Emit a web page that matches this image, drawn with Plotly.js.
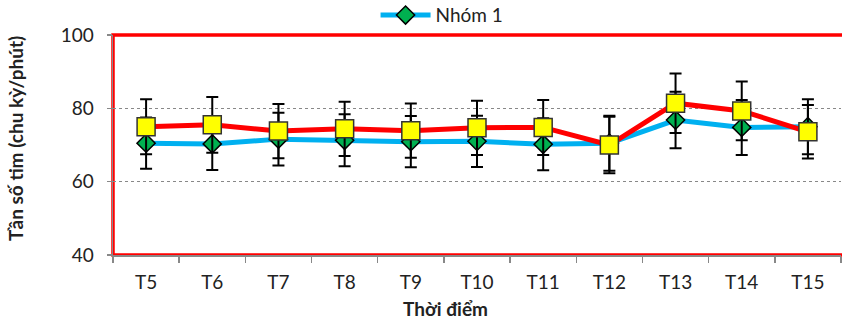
<!DOCTYPE html>
<html>
<head>
<meta charset="utf-8">
<script src="https://cdn.plot.ly/plotly-3.0.1.min.js"></script>
<style>html,body{margin:0;padding:0;background:#fff;}#chart{width:842px;height:322px;}</style>
</head>
<body>
<div id="chart"></div>
<script>
const categories = ["T5","T6","T7","T8","T9","T10","T11","T12","T13","T14","T15"];
const group1Name = "Nhóm 1";
const group1Values = [70.5, 70.3, 71.6, 71.3, 70.9, 71.0, 70.2, 70.5, 76.8, 74.8, 75.0];
const group1Errors = [7.0, 7.1, 7.2, 7.1, 7.0, 7.0, 7.1, 7.5, 7.7, 7.5, 7.5];
const group2Name = "Nhóm 2";
const group2Values = [75.0, 75.5, 73.8, 74.4, 73.9, 74.7, 74.8, 70.0, 81.4, 79.3, 73.6];
const group2Errors = [7.5, 7.6, 7.4, 7.4, 7.4, 7.4, 7.5, 7.7, 8.1, 8.0, 7.3];
const yTicks = [40, 60, 80, 100];
const yTitle = "Tần số tim (chu kỳ/phút)";
const xTitle = "Thời điểm";

const FONT = "Lato, 'Open Sans', sans-serif";

const traces = [
  {
    type: "scatter", mode: "lines+markers", name: group1Name,
    x: categories, y: group1Values,
    line: {color: "#00B0F0", width: 5},
    marker: {symbol: "diamond", size: 14, color: "#00B050", line: {color: "#000", width: 1.5}},
    error_y: {type: "data", array: group1Errors, visible: true, color: "#000", thickness: 2, width: 6},
    showlegend: true
  },
  {
    type: "scatter", mode: "lines+markers", name: group2Name,
    x: categories, y: group2Values,
    line: {color: "#FF0000", width: 5},
    marker: {symbol: "square", size: 18, color: "#FFFF00", line: {color: "#333", width: 1.5}},
    error_y: {type: "data", array: group2Errors, visible: true, color: "#000", thickness: 2, width: 6},
    showlegend: false
  }
];

const layout = {
  width: 842, height: 322,
  margin: {l: 113, r: 1, t: 35, b: 67, autoexpand: false},
  paper_bgcolor: "#fff", plot_bgcolor: "#fff",
  font: {family: FONT, size: 19, color: "#222"},
  showlegend: true,
  legend: {orientation: "h", x: 0.452, xanchor: "center", y: 1.09, yanchor: "middle",
           font: {family: FONT, size: 19, color: "#222"}, itemwidth: 50, bgcolor: "rgba(0,0,0,0)"},
  xaxis: {
    type: "category", range: [-0.5, 10.5],
    showline: true, linecolor: "#888", linewidth: 1.5,
    ticks: "outside", tickson: "boundaries", ticklen: 6, tickcolor: "#888", tickwidth: 1.5,
    ticklabelstandoff: 10,
    showgrid: false, zeroline: false, fixedrange: true,
    tickfont: {family: FONT, size: 19, color: "#222"}
  },
  yaxis: {
    range: [40, 100], tickvals: yTicks, ticktext: yTicks.map(String),
    showline: true, linecolor: "#888", linewidth: 1.5,
    ticks: "outside", ticklen: 5, tickcolor: "#888", tickwidth: 1.5,
    ticklabelstandoff: 9,
    showgrid: true, gridcolor: "#888", gridwidth: 1, griddash: "dot",
    zeroline: false, fixedrange: true,
    tickfont: {family: FONT, size: 19, color: "#222"}
  },
  shapes: [
    {type: "rect", xref: "paper", yref: "paper", x0: 0, x1: 1.01, y0: 0, y1: 1,
     line: {color: "#FF0000", width: 3.5}, fillcolor: "rgba(0,0,0,0)", layer: "below"}
  ],
  annotations: [
    {text: "<b>" + yTitle + "</b>", xref: "paper", yref: "paper", x: -0.1346, y: 0.527,
     textangle: -90, showarrow: false, font: {family: FONT, size: 19, color: "#222"},
     xanchor: "center", yanchor: "middle"},
    {text: "<b>" + xTitle + "</b>", xref: "paper", yref: "paper", x: 0.457, y: -0.245,
     showarrow: false, font: {family: FONT, size: 19, color: "#222"},
     xanchor: "center", yanchor: "middle"}
  ]
};

Plotly.newPlot("chart", traces, layout, {displayModeBar: false, staticPlot: true});
</script>
</body>
</html>
